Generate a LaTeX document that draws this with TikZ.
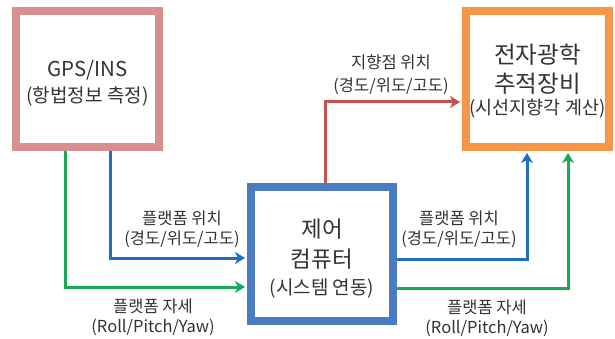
\documentclass[tikz,border=0pt]{standalone}
\usepackage{fontspec}
\setmainfont{Noto Sans CJK KR}
\usetikzlibrary{arrows.meta}
\definecolor{gpsc}{HTML}{D6918F}
\definecolor{eoc}{HTML}{F79646}
\definecolor{ctrlc}{HTML}{4A7CC3}
\definecolor{bluel}{HTML}{1F6FC0}
\definecolor{greenl}{HTML}{1AAA55}
\definecolor{redl}{HTML}{C8504D}
\definecolor{txt}{HTML}{333333}
\tikzset{
  bigbox/.style={draw, line width=8pt, minimum width=143pt, minimum height=136pt, align=center, text=txt, inner sep=0pt},
  conn/.style={line width=3pt, -{Stealth[length=10pt,width=12pt,inset=3pt]}, shorten >=2pt},
  lbl/.style={align=center, text=txt, font=\fontsize{16.5}{20}\selectfont, inner sep=0pt}
}
\begin{document}
\begin{tikzpicture}[x=1pt,y=-1pt]
\useasboundingbox (0,0) rectangle (615,339);
\fill[white] (0,0) rectangle (615,339);
\node[bigbox, draw=gpsc] (gps) at (87.5,79) {\fontsize{20.5}{27}\selectfont\rule{0pt}{25pt}GPS/INS\\[6pt]\fontsize{19}{24}\selectfont (항법정보 측정)};
\node[bigbox, draw=eoc] (eo) at (537.5,79) {\fontsize{23.5}{29}\selectfont\rule{0pt}{24pt}전자광학\\[7pt]\fontsize{23.5}{27}\selectfont 추적장비\\[4pt]\fontsize{18.5}{24}\selectfont (시선지향각 계산)};
\node[bigbox, draw=ctrlc, minimum width=142pt, minimum height=134pt] (ctrl) at (322,254) {\fontsize{22.5}{30}\selectfont\rule{0pt}{27pt}제어\\[9pt]\fontsize{22.5}{29}\selectfont 컴퓨터\\[8pt]\fontsize{19}{27}\selectfont (시스템 연동)};
\coordinate (gx) at (65,287);
\coordinate (bx) at (110,258);
\coordinate (rx) at (325,102);
\coordinate (b2) at (527,259);
\coordinate (g2) at (568,288);
\draw[conn, greenl] (gps.south -| gx) |- (ctrl.west |- gx);
\draw[conn, bluel] (gps.south -| bx) |- (ctrl.west |- bx);
\draw[conn, redl] (ctrl.north -| rx) |- (eo.west |- rx);
\draw[conn, bluel] (ctrl.east |- b2) -| (eo.south -| b2);
\draw[conn, greenl] (ctrl.east |- g2) -| (eo.south -| g2);
\node[lbl] (l1) at (182,229) {플랫폼 위치\\(경도/위도/고도)};
\node[lbl] (l2) at (153,317) {플랫폼 자세\\(Roll/Pitch/Yaw)};
\node[lbl] (l3) at (459,229) {플랫폼 위치\\(경도/위도/고도)};
\node[lbl] (l4) at (487,318) {플랫폼 자세\\(Roll/Pitch/Yaw)};
\node[lbl] (l5) at (391,75) {지향점 위치\\[3pt](경도/위도/고도)};
\end{tikzpicture}
\end{document}
